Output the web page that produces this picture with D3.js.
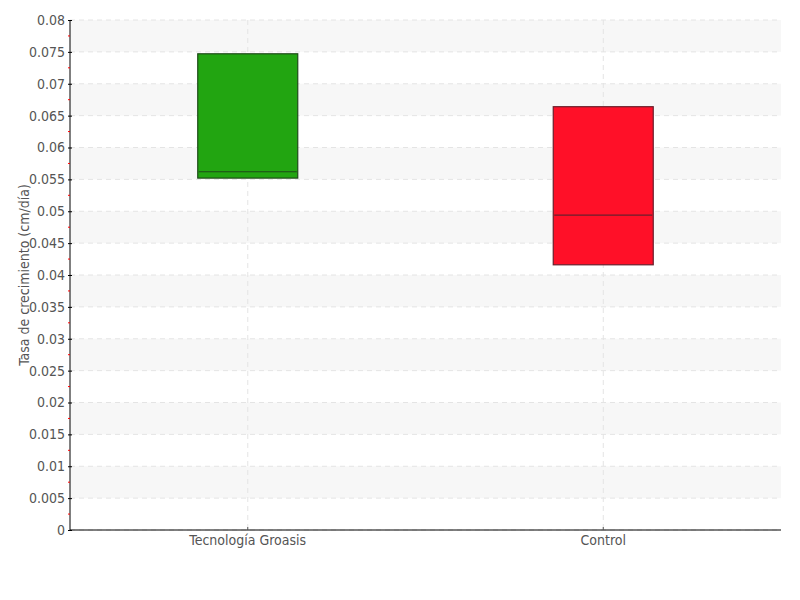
<!DOCTYPE html>
<html><head><meta charset="utf-8">
<script src="https://cdn.jsdelivr.net/npm/d3@7"></script>
<style>
body{margin:0;background:#fff;}
text{font-family:"Liberation Sans Narrow","DejaVu Sans Condensed",sans-serif;fill:#555;}
</style></head>
<body><svg id="c" width="800" height="600"></svg>
<script>
const categories = ["Tecnología Groasis", "Control"];
const q1 = [0.0552, 0.0416];
const median = [0.0562, 0.0494];
const q3 = [0.0747, 0.0664];
const fills = ["#22a511", "#ff1028"];
const strokes = ["#1e4a18", "#6a1f2c"];
const yTicks = d3.range(0, 0.0801, 0.005).map(v => +v.toFixed(3));
const yLabel = "Tasa de crecimiento (cm/día)";

const svg = d3.select("#c");
const m = {l:70, r:19, t:20, b:70};
const W = 800, H = 600;
const x = d3.scaleBand().domain(categories).range([m.l, W - m.r]);
const y = d3.scaleLinear().domain([0, 0.08]).range([H - m.b, m.t]);

// bands
const bands = yTicks.slice(0, -1).map((v,i)=>({lo:v, hi:yTicks[i+1], i}));
svg.append("g").selectAll("rect").data(bands.filter(b => (15 - b.i) % 2 === 1 ? false : true)).join("rect")
  .attr("x", m.l).attr("width", W - m.r - m.l)
  .attr("y", d => y(d.hi)).attr("height", d => y(d.lo) - y(d.hi))
  .attr("fill", "#f7f7f7");

// horizontal gridlines
svg.append("g").selectAll("line").data(yTicks).join("line")
  .attr("x1", m.l).attr("x2", W - m.r)
  .attr("y1", d => y(d)).attr("y2", d => y(d))
  .attr("stroke", "#e4e4e4").attr("stroke-dasharray", "5,4");
// vertical gridlines
svg.append("g").selectAll("line").data(categories).join("line")
  .attr("x1", d => x(d) + x.bandwidth()/2).attr("x2", d => x(d) + x.bandwidth()/2)
  .attr("y1", m.t).attr("y2", H - m.b)
  .attr("stroke", "#e4e4e4").attr("stroke-dasharray", "5,4");

// boxes
const bw = 100;
const g = svg.append("g").selectAll("g").data(categories).join("g");
g.append("rect")
  .attr("x", (d) => x(d) + x.bandwidth()/2 - bw/2).attr("width", bw)
  .attr("y", (d,i) => y(q3[i])).attr("height", (d,i) => y(q1[i]) - y(q3[i]))
  .attr("fill", (d,i) => fills[i]).attr("stroke", (d,i) => strokes[i]).attr("stroke-width", 1.2);
g.append("line")
  .attr("x1", (d) => x(d) + x.bandwidth()/2 - bw/2 + 1).attr("x2", (d) => x(d) + x.bandwidth()/2 + bw/2 - 1)
  .attr("y1", (d,i) => y(median[i])).attr("y2", (d,i) => y(median[i]))
  .attr("stroke", (d,i) => strokes[i]).attr("stroke-width", 1.2);

// y axis
const yAxis = d3.axisLeft(y).tickValues(yTicks).tickSize(2).tickPadding(3)
  .tickFormat(d => d3.format("~g")(d));
const ya = svg.append("g").attr("transform", `translate(${m.l},0)`).call(yAxis);
ya.select(".domain").attr("stroke", "#000").attr("d", `M0,${m.t}V${H-m.b}`);
ya.selectAll(".tick line").attr("stroke", "#000").attr("x1", 2).attr("x2", -2);
ya.selectAll("text").style("font-size", "14px").attr("fill", "#555")
  .style("font-family", '"Liberation Sans Narrow","DejaVu Sans Condensed",sans-serif');
// minor ticks
const minor = yTicks.slice(0,-1).map((v,i) => (v + yTicks[i+1]) / 2);
svg.append("g").selectAll("line").data(minor).join("line")
  .attr("x1", m.l - 2).attr("x2", m.l)
  .attr("y1", d => y(d)).attr("y2", d => y(d))
  .attr("stroke", "#ff0000");

// x axis
const xa = svg.append("g").attr("transform", `translate(0,${H - m.b})`)
  .call(d3.axisBottom(x).tickSize(3).tickPadding(2));
xa.select(".domain").attr("stroke", "#000").attr("d", `M${m.l},0H${W-m.r}`);
xa.selectAll(".tick line").attr("stroke", "#555").attr("y1", -3).attr("y2", 0);
xa.selectAll("text").style("font-size", "14px").attr("fill", "#555")
  .style("font-family", '"Liberation Sans Narrow","DejaVu Sans Condensed",sans-serif');

svg.append("text")
  .attr("transform", `translate(29,${(m.t + H - m.b)/2}) rotate(-90)`)
  .attr("text-anchor", "middle").style("font-size", "14px").text(yLabel);
</script></body></html>
